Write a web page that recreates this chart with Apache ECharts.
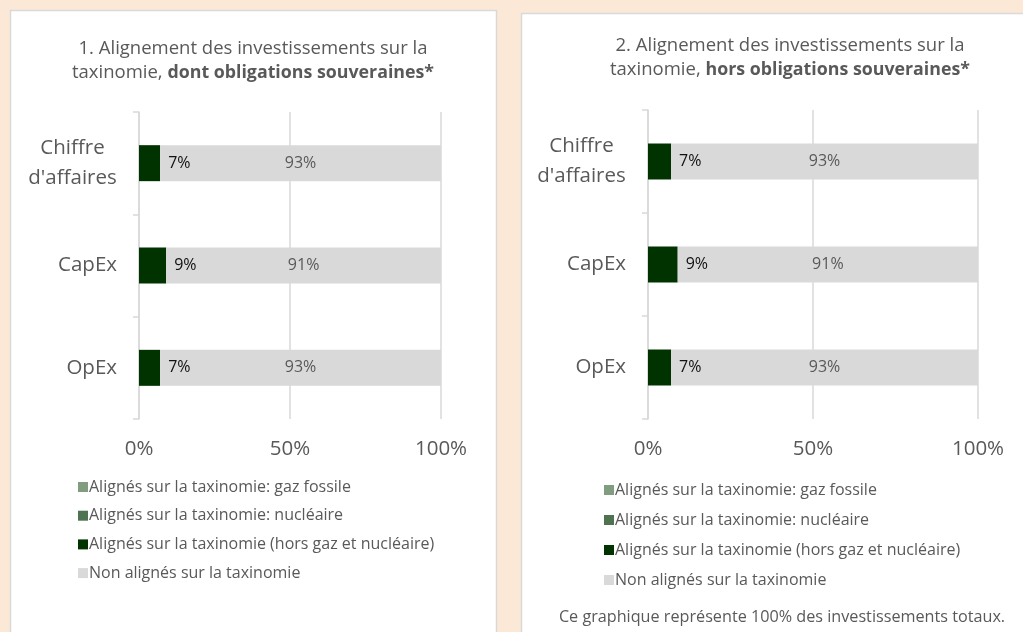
<!DOCTYPE html>
<html>
<head>
<meta charset="utf-8">
<script src="https://cdn.jsdelivr.net/npm/echarts@6/dist/echarts.min.js"></script>
<style>
  html, body { margin: 0; padding: 0; background: #FBE8D7; }
  #chart { width: 1023px; height: 632px; }
</style>
</head>
<body>
<div id="chart"></div>
<script>
// Categories (top to bottom)
const categories = ["Chiffre\nd'affaires", 'CapEx', 'OpEx'];

// Series names
const seriesNames = [
  'Alignés sur la taxinomie: gaz fossile',
  'Alignés sur la taxinomie: nucléaire',
  'Alignés sur la taxinomie (hors gaz et nucléaire)',
  'Non alignés sur la taxinomie'
];

// Panel 1: including sovereign bonds (%)
const p1GazFossile = [0, 0, 0];
const p1Nucleaire = [0, 0, 0];
const p1Alignes = [7, 9, 7];
const p1NonAlignes = [93, 91, 93];

// Panel 2: excluding sovereign bonds (%)
const p2GazFossile = [0, 0, 0];
const p2Nucleaire = [0, 0, 0];
const p2Alignes = [7, 9, 7];
const p2NonAlignes = [93, 91, 93];

// Axis ticks
const axisMin = 0, axisMax = 100, axisStep = 50;

const colors = ['#809D80', '#4F7250', '#013300', '#D9D9D9'];
const textGrey = '#595959';
const lineGrey = '#D9D9D9';
const FONT = '"Open Sans", "Noto Sans", sans-serif';

function seriesFor(gridIdx, stackId, values) {
  return values.map((vals, i) => ({
    name: seriesNames[i],
    type: 'bar',
    stack: stackId,
    xAxisIndex: gridIdx,
    yAxisIndex: gridIdx,
    barWidth: 36,
    data: vals,
    itemStyle: { color: colors[i] },
    label: i === 2 ? {
      show: true, position: 'right', distance: 8,
      formatter: '{c}%', color: '#111111', fontSize: 16, fontFamily: FONT
    } : i === 3 ? {
      show: true, position: 'inside',
      formatter: '{c}%', color: textGrey, fontSize: 16, fontFamily: FONT
    } : { show: false },
    emphasis: { disabled: true }
  }));
}

function xAxisFor(gridIdx) {
  return {
    type: 'value', gridIndex: gridIdx,
    min: axisMin, max: axisMax, interval: axisStep,
    axisLine: { show: false }, axisTick: { show: false },
    splitLine: { show: true, lineStyle: { color: lineGrey, width: 1.5 } },
    axisLabel: { formatter: '{value}%', color: textGrey, fontSize: 20.5, fontFamily: FONT, margin: 20 }
  };
}

// Multi-line category names are centred line by line inside a right-aligned block
function categoryLabel(v) {
  if (v.indexOf('\n') < 0) return v;
  return v.split('\n').map(s => '{c|' + s + '}').join('\n');
}

function yAxisFor(gridIdx) {
  return {
    type: 'category', gridIndex: gridIdx, data: categories, inverse: true,
    axisLine: { show: true, lineStyle: { color: lineGrey, width: 1.5 } },
    axisTick: { show: true, length: 6, lineStyle: { color: lineGrey, width: 1.5 } },
    axisLabel: {
      color: textGrey, fontSize: 20.5, fontFamily: FONT, margin: 22, lineHeight: 30, align: 'right',
      formatter: categoryLabel,
      rich: { c: { width: 89, align: 'center', color: textGrey, fontSize: 20.5, fontFamily: FONT, lineHeight: 30 } }
    }
  };
}

function legendFor(left, top, gap) {
  return {
    orient: 'vertical', left: left, top: top,
    itemWidth: 10, itemHeight: 10, itemGap: gap,
    icon: 'rect', selectedMode: false,
    data: seriesNames,
    textStyle: { color: textGrey, fontSize: 16, fontFamily: FONT, lineHeight: 18, padding: [0, 0, 0, -4] }
  };
}

const titleStyle = {
  color: textGrey, fontSize: 18.5, fontWeight: 'normal', fontFamily: FONT, lineHeight: 24,
  rich: { b: { fontWeight: 'bold', color: textGrey, fontSize: 17.8, fontFamily: FONT, lineHeight: 24 } }
};

const chart = echarts.init(document.getElementById('chart'));
chart.setOption({
  backgroundColor: '#FBE8D7',
  animation: false,
  graphic: [
    { type: 'rect', z: -10, shape: { x: 10.5, y: 10.5, width: 486, height: 640 },
      style: { fill: '#FFFFFF', stroke: lineGrey, lineWidth: 1.5 } },
    { type: 'rect', z: -10, shape: { x: 521.5, y: 13.5, width: 520, height: 640 },
      style: { fill: '#FFFFFF', stroke: lineGrey, lineWidth: 1.5 } }
  ],
  title: [
    {
      text: '1. Alignement des investissements sur la\ntaxinomie, {b|dont obligations souveraines*}',
      left: 248, top: 32, textAlign: 'center', textStyle: titleStyle
    },
    {
      text: '2. Alignement des investissements sur la\ntaxinomie, {b|hors obligations souveraines*}',
      left: 785, top: 29, textAlign: 'center', textStyle: titleStyle
    },
    {
      text: 'Ce graphique représente 100% des investissements totaux.',
      left: 777, top: 604, textAlign: 'center',
      textStyle: { color: textGrey, fontSize: 16.2, fontWeight: 'normal', fontFamily: FONT }
    }
  ],
  legend: [ legendFor(73, 473, 10.7), legendFor(599, 476, 12) ],
  grid: [
    { left: 139, right: 582, top: 112, bottom: 213 },
    { left: 648, right: 45, top: 110, bottom: 213 }
  ],
  xAxis: [ xAxisFor(0), xAxisFor(1) ],
  yAxis: [ yAxisFor(0), yAxisFor(1) ],
  series: [
    ...seriesFor(0, 'p1', [p1GazFossile, p1Nucleaire, p1Alignes, p1NonAlignes]),
    ...seriesFor(1, 'p2', [p2GazFossile, p2Nucleaire, p2Alignes, p2NonAlignes])
  ]
});
</script>
</body>
</html>
